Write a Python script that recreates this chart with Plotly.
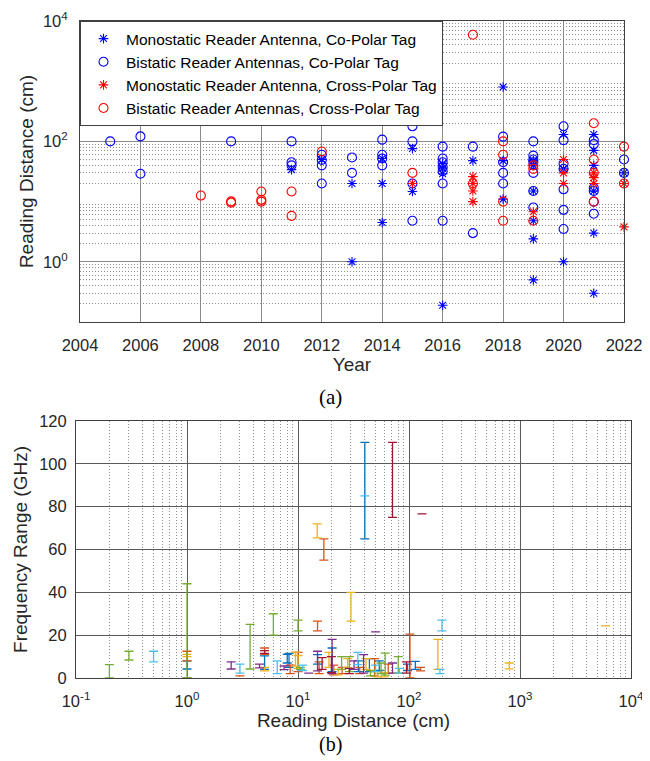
import plotly.graph_objects as go

# ---------------- (a) Reading distance vs. year ----------------
mono_co_year = [2011, 2012, 2013, 2013, 2014, 2014, 2014, 2015, 2015, 2016, 2016, 2016, 2016,
                2017, 2018, 2018, 2018, 2019, 2019, 2019, 2019, 2019, 2019, 2020, 2020, 2020,
                2021, 2021, 2021, 2021, 2021, 2021, 2022]
mono_co_dist = [34, 50, 20, 1, 52, 20, 4.5, 76, 14.7, 43, 36, 29, 0.19,
                48, 800, 48, 11, 48, 40, 15, 4.8, 2.4, 0.5, 130, 35, 1,
                130, 71, 40, 15, 3, 0.3, 30]

bi_co_year = [2005, 2006, 2006, 2009, 2011, 2011, 2011, 2012, 2012, 2012, 2012, 2013, 2013,
              2014, 2014, 2014, 2014, 2015, 2015, 2015, 2015,
              2016, 2016, 2016, 2016, 2016, 2016, 2016, 2017, 2017,
              2018, 2018, 2018, 2018, 2019, 2019, 2019, 2019, 2019, 2019, 2019,
              2020, 2020, 2020, 2020, 2020, 2020, 2020,
              2021, 2021, 2021, 2021, 2021, 2021, 2022, 2022]
bi_co_dist = [100, 121, 29, 100, 100, 45, 40, 60, 49, 40, 20, 54, 30,
              107, 60, 52, 40, 178, 100, 20, 4.8,
              82, 52, 45, 38, 32, 20, 4.8, 82, 3,
              120, 45, 30, 20, 100, 58, 50, 45, 30, 15, 8,
              178, 105, 43, 35, 16, 7.3, 3.5,
              105, 90, 17, 15, 10, 6.3, 50, 30]

mono_cross_year = [2015, 2017, 2017, 2017, 2017, 2019, 2020, 2020, 2020, 2021, 2021, 2021, 2022, 2022]
mono_cross_dist = [20, 26, 20, 15, 10, 6.8, 50, 30, 20, 30, 25, 20, 20, 3.8]

bi_cross_year = [2008, 2009, 2009, 2010, 2010, 2010, 2011, 2011, 2012, 2015, 2017, 2017,
                 2018, 2018, 2018, 2018, 2019, 2019, 2019, 2021, 2021, 2021, 2021, 2022, 2022]
bi_cross_dist = [12.6, 9.6, 10.1, 14.7, 10.7, 10, 14.7, 5.8, 68, 30, 5900, 20,
                 100, 60, 10, 4.8, 40, 35, 4.8, 200, 50, 30, 10, 82, 20]

series_names = ["Monostatic Reader Antenna, Co-Polar Tag",
                "Bistatic Reader Antennas, Co-Polar Tag",
                "Monostatic Reader Antenna, Cross-Polar Tag",
                "Bistatic Reader Antennas, Cross-Polar Tag"]

# ---------------- (b) Frequency range vs. reading distance ----------------
bar_dist = [0.2, 0.3, 0.5, 1.0, 1.0, 1.0, 1.0, 1.0, 2.5, 3.0, 3.0, 3.7, 4.5,
            5.0, 5.0, 5.0, 5.0, 6.0, 6.5, 7.5, 8.0, 10, 10, 10, 10.5,
            15, 14.9, 17.1, 30, 40, 40, 71, 131, 50, 102, 198, 182, 190, 800, 5900,
            8.3, 8.5, 9.5, 12.5, 11, 15, 15, 15.5, 16.5, 20.3, 20.3, 20, 21, 19,
            24.7, 25, 29, 29, 28, 32, 34.6, 35, 39, 41, 44, 49, 50, 52, 54, 56,
            61, 65, 71, 80, 82, 95, 97, 114, 127, 23, 45, 60, 36]
bar_fmin = [0, 8.4, 7.5, 0, 8, 10, 4.2, 0, 4.2, 2.3, 1, 4.2, 4.7,
            11, 11.5, 4, 3.3, 20, 2, 3.9, 7, 22, 3, 4.5, 4,
            22, 65.4, 55, 26.6, 65, 85, 75, 76.6, 21.5, 0, 22, 4, 2, 4.3, 24.3,
            5, 2, 5.5, 2.3, 3.5, 3.3, 6.5, 2, 4, 2, 3, 2.5, 1.5, 5,
            4, 2, 2, 3, 5, 4, 6.2, 3, 2.3, 4, 3, 1, 3, 0.5, 3.5, 2,
            1.3, 2.3, 2.3, 2.3, 2.3, 2.3, 3.5, 4, 3.3, 1.5, 1, 0.5, 2]
bar_fmax = [6.2, 12.5, 12.5, 44, 12.5, 11, 8, 0, 7.5, 6.5, 1, 25, 6.5,
            14, 12.8, 10.3, 5, 30, 8, 5.6, 11, 27, 12, 10.5, 5,
            26.6, 72, 65, 40, 110, 85, 110, 76.6, 21.5, 20.5, 27, 18, 4, 7, 24.3,
            11.5, 6, 12.1, 2.3, 6, 12.5, 10.9, 7.5, 9.5, 18, 14, 10, 6, 12,
            10, 5, 4.5, 10, 9, 8, 12, 8, 10.9, 9, 9, 9, 6, 3, 8, 7,
            11.6, 6.5, 7, 10, 4.5, 7.5, 6.5, 7.8, 5, 4, 3.5, 2.5, 5]
# MATLAB colour-order index of each error bar (1 = blue ... 7 = dark red)
bar_group = [5, 5, 6, 5, 2, 3, 1, 4, 4, 6, 2, 5, 4,
             2, 7, 1, 3, 5, 6, 4, 1, 5, 2, 3, 5,
             2, 3, 2, 3, 1, 6, 7, 7, 4, 2, 6, 3, 6, 3, 3,
             1, 2, 3, 4, 6, 4, 1, 2, 7, 4, 1, 7, 2, 3,
             5, 2, 7, 5, 3, 4, 6, 1, 4, 3, 1, 2, 6, 3, 1, 5,
             5, 2, 4, 5, 6, 7, 1, 1, 2, 3, 5, 3, 2]

matlab_colors = ["#0072BD", "#D95319", "#EDB120", "#7E2F8E", "#77AC30", "#4DBEEE", "#A2142F"]

W, H = 650, 761
FONT = "Liberation Sans"
TXT = "#262626"
DOT = "1px,2px"

fig = go.Figure()

# (a) scatter series
marker_specs = [
    (mono_co_year, mono_co_dist, "asterisk-open", "#0000FF", 8),
    (bi_co_year, bi_co_dist, "circle-open", "#0000FF", 9),
    (mono_cross_year, mono_cross_dist, "asterisk-open", "#FF0000", 8),
    (bi_cross_year, bi_cross_dist, "circle-open", "#FF0000", 9),
]
for (xs, ys, sym, col, sz), name in zip(marker_specs, series_names):
    fig.add_trace(go.Scatter(
        x=xs, y=ys, mode="markers", name=name, xaxis="x", yaxis="y",
        cliponaxis=False,
        marker=dict(symbol=sym, size=sz, color=col, line=dict(color=col, width=1.1)),
    ))

# (b) error bars, one trace per colour
for g in range(1, 8):
    idx = [i for i, gg in enumerate(bar_group) if gg == g]
    xs = [bar_dist[i] for i in idx]
    centers = [(bar_fmin[i] + bar_fmax[i]) / 2 for i in idx]
    halves = [(bar_fmax[i] - bar_fmin[i]) / 2 for i in idx]
    col = matlab_colors[g - 1]
    fig.add_trace(go.Scatter(
        x=xs, y=centers, mode="markers", xaxis="x2", yaxis="y2", showlegend=False,
        marker=dict(size=1, opacity=0, color=col),
        error_y=dict(type="data", array=halves, symmetric=True, color=col,
                     thickness=1.3, width=4.5),
    ))

# grid helpers (axis styling)
def log_minor(lo, hi):
    vals = []
    for e in range(lo, hi):
        for d in range(2, 10):
            vals.append(d * 10 ** e)
    return vals

tick_font = dict(family=FONT, size=16.5, color=TXT)
title_font = dict(family=FONT, size=19, color=TXT)

fig.update_layout(
    width=W, height=H,
    margin=dict(l=0, r=0, t=0, b=0),
    paper_bgcolor="white", plot_bgcolor="white",
    font=dict(family=FONT, color=TXT),
    xaxis=dict(
        domain=[72 / W, 616 / W], anchor="y",
        range=[2004, 2022], tickmode="array", tickvals=list(range(2004, 2023, 2)),
        showgrid=True, gridcolor="#8a8a8a", gridwidth=1.2,
        showline=True, mirror=True, linecolor="#404040", linewidth=1,
        ticks="", tickfont=tick_font, ticklabelstandoff=8,
        title=dict(text="Year", font=title_font, standoff=4),
        zeroline=False, automargin=False,
    ),
    yaxis=dict(
        domain=[1 - 314 / H, 1 - 13 / H], anchor="x",
        type="log", range=[-1, 4],
        tickmode="array", tickvals=[1, 100, 10000],
        ticktext=["10<sup>0</sup>", "10<sup>2</sup>", "10<sup>4</sup>"],
        showgrid=True, gridcolor="#8a8a8a", gridwidth=1.2,
        minor=dict(tickmode="array", tickvals=log_minor(-1, 4), showgrid=True,
                   gridcolor="#8f8f8f", griddash=DOT, gridwidth=1, ticks=""),
        showline=True, mirror=True, linecolor="#404040", linewidth=1,
        ticks="", tickfont=tick_font, ticklabelstandoff=8,
        title=dict(text="Reading Distance (cm)", font=title_font, standoff=4),
        zeroline=False, automargin=False,
    ),
    xaxis2=dict(
        domain=[68 / W, 623 / W], anchor="y2",
        type="log", range=[-1, 4],
        tickmode="array", tickvals=[0.1, 1, 10, 100, 1000, 10000],
        ticktext=["10<sup>-1</sup>", "10<sup>0</sup>", "10<sup>1</sup>",
                  "10<sup>2</sup>", "10<sup>3</sup>", "10<sup>4</sup>"],
        showgrid=True, gridcolor="#5a5a5a", gridwidth=1.1,
        minor=dict(tickmode="array", tickvals=log_minor(-1, 4), showgrid=True,
                   gridcolor="#8f8f8f", griddash=DOT, gridwidth=1, ticks=""),
        showline=True, mirror=True, linecolor="#404040", linewidth=1,
        ticks="", tickfont=tick_font, ticklabelstandoff=8,
        title=dict(text="Reading Distance (cm)", font=title_font, standoff=2),
        zeroline=False, automargin=False,
    ),
    yaxis2=dict(
        domain=[1 - 670 / H, 1 - 413 / H], anchor="x2",
        range=[0, 120], tickmode="array", tickvals=list(range(0, 121, 20)),
        showgrid=True, gridcolor="#5a5a5a", gridwidth=1.1,
        showline=True, mirror=True, linecolor="#404040", linewidth=1,
        ticks="", tickfont=tick_font, ticklabelstandoff=5,
        title=dict(text="Frequency Range (GHz)", font=title_font, standoff=6),
        zeroline=False, automargin=False,
    ),
    legend=dict(
        x=72 / W, y=1 - 13 / H, xanchor="left", yanchor="top",
        bgcolor="white", bordercolor="#404040", borderwidth=1,
        font=dict(family=FONT, size=15.5, color="#000000"),
        itemwidth=35, tracegroupgap=0,
    ),
    annotations=[
        dict(text="(a)", x=322 / W, y=1 - 389 / H, xref="paper", yref="paper",
             showarrow=False, font=dict(family="Liberation Serif", size=21, color="#000000")),
        dict(text="(b)", x=322 / W, y=1 - 750 / H, xref="paper", yref="paper",
             showarrow=False, font=dict(family="Liberation Serif", size=20, color="#000000")),
    ],
)

fig.write_html("out.html")
